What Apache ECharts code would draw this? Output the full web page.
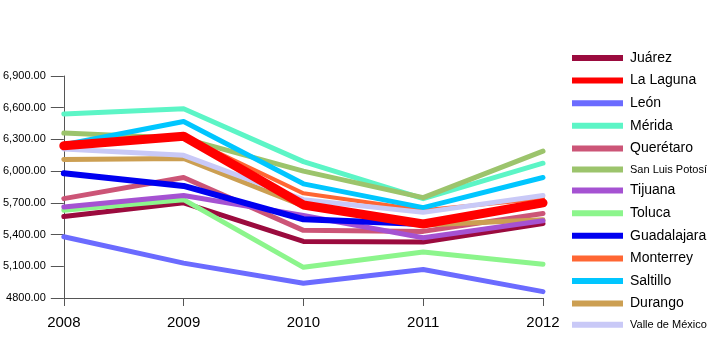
<!DOCTYPE html>
<html><head><meta charset="utf-8">
<script src="https://cdn.jsdelivr.net/npm/echarts@6/dist/echarts.min.js"></script>
<style>html,body{margin:0;padding:0;background:#fff}#c{width:720px;height:359px}</style>
</head><body><div id="c"></div>
<script>
const years = ['2008','2009','2010','2011','2012'];
const yTicks = [4800, 5100, 5400, 5700, 6000, 6300, 6600, 6900];

const juarez      = [5570, 5700, 5335, 5330, 5505];
const laLaguna    = [6240, 6330, 5680, 5500, 5700];
const leon        = [5380, 5130, 4940, 5070, 4860];
const merida      = [6540, 6590, 6090, 5740, 6075];
const queretaro   = [5740, 5940, 5440, 5430, 5600];
const sanLuis     = [6360, 6310, 6000, 5750, 6190];
const tijuana     = [5660, 5770, 5580, 5370, 5530];
const toluca      = [5630, 5730, 5090, 5235, 5120];
const guadalajara = [5980, 5860, 5545, 5500, 5690];
const monterrey   = [6240, 6330, 5790, 5630, 5740];
const saltillo    = [6250, 6470, 5880, 5655, 5940];
const durango     = [6110, 6120, 5670, 5490, 5540];
const valle       = [6210, 6150, 5730, 5610, 5770];

const seriesDefs = [
  ['Juárez', juarez, '#9b0b3e', 5, 2],
  ['La Laguna', laLaguna, '#ff0000', 9, 10],
  ['León', leon, '#6b6bff', 5, 2],
  ['Mérida', merida, '#5cf5c6', 5, 2],
  ['Querétaro', queretaro, '#cc5577', 5, 2],
  ['San Luis Potosí', sanLuis, '#9cc46c', 5, 2],
  ['Tijuana', tijuana, '#a552d2', 5, 3],
  ['Toluca', toluca, '#8cf58c', 5, 2],
  ['Guadalajara', guadalajara, '#0000f0', 6, 4],
  ['Monterrey', monterrey, '#ff6633', 4, 3],
  ['Saltillo', saltillo, '#00c6ff', 5, 3],
  ['Durango', durango, '#cc9f52', 5, 2],
  ['Valle de México', valle, '#c9c9f7', 5, 3]
];

const chart = echarts.init(document.getElementById('c'), null, {renderer: 'canvas'});
const fnt = 'Liberation Sans, Arial, sans-serif';
chart.setOption({
  animation: false,
  grid: {left: 63, right: 177, top: 76, bottom: 61},
  legend: {
    orient: 'vertical', left: 567, top: 46,
    itemWidth: 51, itemHeight: 6, itemGap: 8.6,
    icon: 'rect',
    data: seriesDefs.map(d => d[0]),
    formatter: function (name) {
      if (name === 'San Luis Potosí' || name === 'Valle de México') return '{s|' + name + '}';
      return '{n|' + name + '}';
    },
    textStyle: {
      color: '#000', fontFamily: fnt, padding: [0, 0, 0, 2],
      rich: {
        n: {fontSize: 14, lineHeight: 14, color: '#000', fontFamily: fnt, fontWeight: 500},
        s: {fontSize: 11, lineHeight: 14, color: '#000', fontFamily: fnt, fontWeight: 500}
      }
    }
  },
  xAxis: {
    type: 'category', data: years, boundaryGap: false,
    axisLine: {show: true, lineStyle: {color: '#555', width: 1}},
    axisTick: {show: true, length: 8, lineStyle: {color: '#555'}},
    axisLabel: {fontSize: 15, color: '#000', fontFamily: fnt, margin: 17}
  },
  yAxis: {
    type: 'value', min: 4800, max: 6900, interval: 300,
    axisLine: {show: true, lineStyle: {color: '#555', width: 1}},
    axisTick: {show: true, length: 13, lineStyle: {color: '#555'}},
    splitLine: {show: false},
    axisLabel: {
      fontSize: 11, color: '#000', fontFamily: fnt, margin: 18,
      formatter: function (v) {
        if (v === yTicks[0]) return v.toFixed(2);
        return v.toLocaleString('en-US', {minimumFractionDigits: 2, maximumFractionDigits: 2});
      }
    }
  },
  series: seriesDefs.map(d => ({
    name: d[0], type: 'line', data: d[1], z: d[4],
    showSymbol: false, symbol: 'none',
    lineStyle: {color: d[2], width: d[3], cap: 'round', join: 'round'},
    itemStyle: {color: d[2]},
    emphasis: {disabled: true}
  }))
});
</script></body></html>
